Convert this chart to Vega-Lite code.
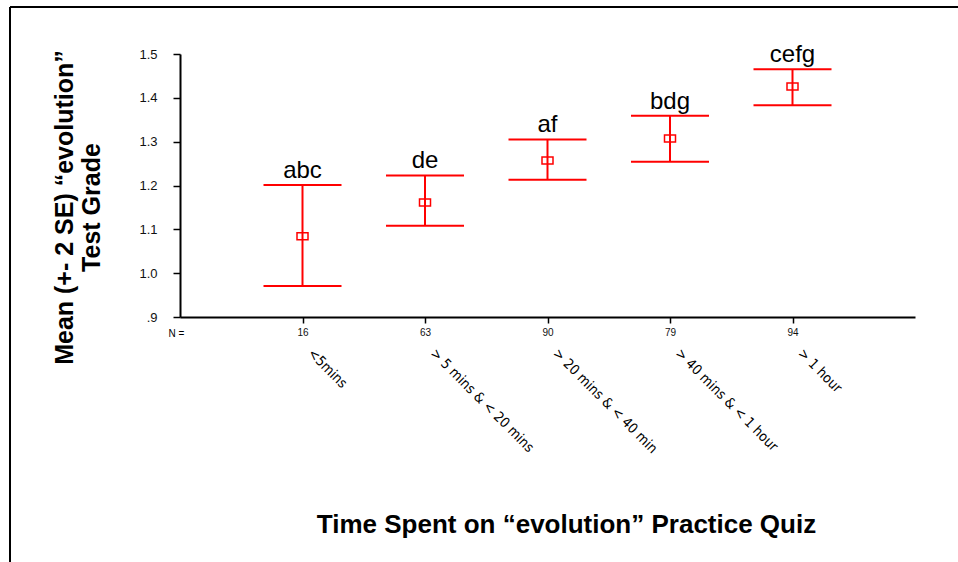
{
  "$schema": "https://vega.github.io/schema/vega-lite/v6.json",
  "autosize": {"type": "none"},
  "padding": {"left": 10, "top": 7, "right": 0, "bottom": 0},
  "width": 948,
  "height": 555,
  "background": "white",
  "config": {
    "font": "Liberation Sans, Arial, sans-serif",
    "view": {"stroke": "black", "strokeWidth": 2, "strokeDash": [948, 1503, 555, 0]},
    "axis": {"grid": false, "domainColor": "black", "tickColor": "black", "labelColor": "#111", "titleColor": "black"}
  },
  "data": {
    "values": [
      {"category": "<5mins", "n": 16, "mean": 1.084, "lower": 0.971, "upper": 1.201, "letters": "abc"},
      {"category": "> 5 mins & < 20 mins", "n": 63, "mean": 1.161, "lower": 1.108, "upper": 1.223, "letters": "de"},
      {"category": "> 20 mins & < 40 min", "n": 90, "mean": 1.257, "lower": 1.213, "upper": 1.305, "letters": "af"},
      {"category": "> 40 mins & < 1 hour", "n": 79, "mean": 1.307, "lower": 1.254, "upper": 1.359, "letters": "bdg"},
      {"category": "> 1 hour", "n": 94, "mean": 1.426, "lower": 1.383, "upper": 1.465, "letters": "cefg"}
    ]
  },
  "layer": [
    {
      "encoding": {
        "x": {
          "field": "n", "type": "ordinal", "sort": null,
          "scale": {"type": "point", "range": [170, 905], "padding": 1.09},
          "axis": {
            "orient": "bottom", "offset": -245,
            "domainWidth": 2, "tickWidth": 1.5, "tickSize": 6,
            "labelFontSize": 10, "labelPadding": 4, "labelAngle": 0, "labelBaseline": "top",
            "title": "N =", "titleX": 166, "titleY": 16, "titleAlign": "center", "titleBaseline": "middle",
            "titleFontSize": 10, "titleFontWeight": "normal", "titleAnchor": null
          }
        }
      },
      "layer": [
        {
          "mark": {"type": "rule", "color": "#ff0000", "strokeWidth": 2, "opacity": 1},
          "encoding": {
            "y": {
              "field": "lower", "type": "quantitative",
              "scale": {"domain": [0.9, 1.5], "range": [310, 47], "nice": false, "zero": false},
              "axis": {
                "offset": -170, "values": [0.9, 1.0, 1.1, 1.2, 1.3, 1.4, 1.5],
                "labelExpr": "datum.value < 0.95 ? '.9' : format(datum.value, '.1f')",
                "domainWidth": 2, "tickWidth": 1.5, "tickSize": 7,
                "labelFontSize": 13, "labelPadding": 16,
                "title": ["Mean (+- 2 SE) “evolution”", "Test Grade"],
                "titleFontSize": 25, "titleFontWeight": "bold", "titleLineHeight": 27,
                "titleX": -116, "titleY": 200, "titleAngle": -90, "titleAlign": "center", "titleBaseline": "middle", "titleAnchor": null
              }
            },
            "y2": {"field": "upper"}
          }
        },
        {
          "mark": {"type": "tick", "color": "#ff0000", "size": 78, "thickness": 2, "opacity": 1},
          "encoding": {"y": {"field": "lower", "type": "quantitative"}}
        },
        {
          "mark": {"type": "tick", "color": "#ff0000", "size": 78, "thickness": 2, "opacity": 1},
          "encoding": {"y": {"field": "upper", "type": "quantitative"}}
        },
        {
          "mark": {"type": "point", "shape": "M-1,-0.64H1V0.64H-1Z", "size": 121, "filled": false, "color": "#ff0000", "strokeWidth": 1.5, "opacity": 1},
          "encoding": {"y": {"field": "mean", "type": "quantitative"}}
        }
      ]
    },
    {
      "mark": {"type": "text", "fontSize": 24, "color": "black", "baseline": "alphabetic", "align": "center", "dy": -7},
      "encoding": {
        "x": {
          "field": "category", "type": "nominal", "sort": null,
          "scale": {"type": "point", "range": [170, 905], "padding": 1.09},
          "axis": {
            "orient": "bottom", "offset": -245,
            "domain": false, "ticks": false, "tickSize": 0,
            "labelAngle": 45, "labelAlign": "left", "labelBaseline": "middle",
            "labelPadding": 34, "labelOffset": 7, "labelFontSize": 14,
            "labelFont": "Liberation Sans Narrow, DejaVu Sans Condensed, Liberation Sans",
            "labelLimit": 400, "labelOverlap": false, "labelColor": "black",
            "title": "Time Spent on “evolution” Practice Quiz",
            "titleFontSize": 26, "titleFontWeight": "bold",
            "titleX": 556, "titleY": 207, "titleAlign": "center", "titleBaseline": "middle", "titleAnchor": null
          }
        },
        "y": {"field": "upper", "type": "quantitative"},
        "text": {"field": "letters"}
      }
    }
  ],
  "resolve": {"scale": {"x": "independent"}}
}
